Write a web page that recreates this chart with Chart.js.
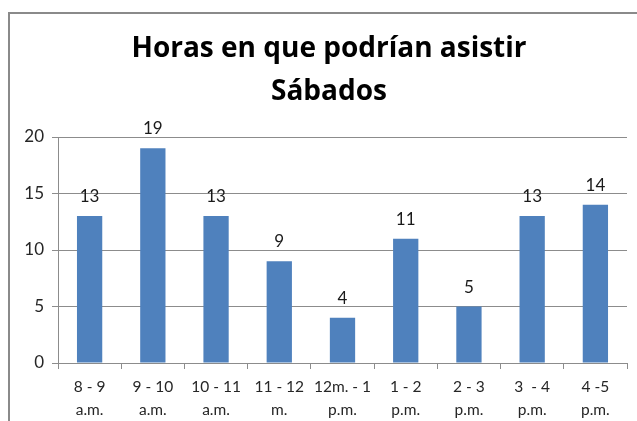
<!DOCTYPE html>
<html>
<head>
<meta charset="utf-8">
<script src="https://cdn.jsdelivr.net/npm/chart.js@4/dist/chart.umd.min.js"></script>
<style>
html,body{margin:0;padding:0;background:#fff;}
#wrap{width:637px;height:421px;position:relative;}
</style>
</head>
<body>
<div id="wrap"><canvas id="c" width="637" height="421"></canvas></div>
<script>
const titleLines = ["Horas en que podrían asistir", "Sábados"];
const categories = [["8 - 9","a.m."],["9 - 10","a.m."],["10 - 11","a.m."],["11 - 12","m."],["12m. - 1","p.m."],["1 - 2","p.m."],["2 - 3","p.m."],["3  - 4","p.m."],["4 -5","p.m."]];
const values = [13, 19, 13, 9, 4, 11, 5, 13, 14];
const yTicks = [0, 5, 10, 15, 20];

const FONT = "Lato, 'Open Sans', sans-serif";
const TFONT = "'Open Sans', Lato, sans-serif";
const GRID = '#8c8c8c';

const framePlugin = {
  id: 'frame',
  beforeDraw(chart) {
    const ctx = chart.ctx;
    ctx.save();
    ctx.fillStyle = '#fff';
    ctx.fillRect(0, 0, chart.width, chart.height);
    ctx.strokeStyle = '#8a8a8a';
    ctx.lineWidth = 2;
    ctx.beginPath();
    ctx.moveTo(9, chart.height);
    ctx.lineTo(9, 13);
    ctx.lineTo(chart.width, 13);
    ctx.stroke();
    ctx.restore();
  },
  afterDraw(chart) {
    const ctx = chart.ctx;
    ctx.save();
    ctx.fillStyle = '#000';
    ctx.font = "bold 28px " + TFONT;
    ctx.textAlign = 'center';
    ctx.textBaseline = 'alphabetic';
    ctx.fillText(titleLines[0], 329, 57);
    ctx.fillText(titleLines[1], 329, 100);
    ctx.restore();
  }
};

const labelPlugin = {
  id: 'vlabels',
  afterDatasetsDraw(chart) {
    const ctx = chart.ctx;
    const meta = chart.getDatasetMeta(0);
    ctx.save();
    ctx.fillStyle = '#1a1a1a';
    ctx.font = "17px " + FONT;
    ctx.textAlign = 'center';
    ctx.textBaseline = 'alphabetic';
    meta.data.forEach((el, i) => {
      ctx.fillText(String(values[i]), el.x, el.y - 14);
    });
    ctx.restore();
  }
};

new Chart(document.getElementById('c'), {
  type: 'bar',
  data: {
    labels: categories,
    datasets: [{
      data: values,
      backgroundColor: '#4f81bd',
      borderWidth: 0,
      categoryPercentage: 1.0,
      barPercentage: 0.4
    }]
  },
  options: {
    responsive: false,
    animation: false,
    layout: { padding: { left: 10, top: 137, right: 10, bottom: 0 } },
    plugins: {
      legend: { display: false },
      title: { display: false },
      tooltip: { enabled: false }
    },
    scales: {
      y: {
        min: 0, max: 20,
        afterFit(s) { s.width = 48; },
        afterBuildTicks(s) { s.ticks = yTicks.map(v => ({ value: v })); },
        ticks: { color: '#262626', font: { family: FONT, size: 17 }, padding: 8 },
        grid: { color: GRID, lineWidth: 1, tickLength: 6, drawTicks: true },
        border: { color: GRID, width: 1 }
      },
      x: {
        afterFit(s) { s.height = 58; },
        ticks: { color: '#262626', font: { family: FONT, size: 15.5, lineHeight: 1.5 }, padding: 6, maxRotation: 0, autoSkip: false },
        grid: { display: true, drawOnChartArea: false, color: GRID, tickLength: 6, offset: true },
        border: { color: GRID, width: 1 }
      }
    }
  },
  plugins: [framePlugin, labelPlugin]
});
</script>
</body>
</html>
